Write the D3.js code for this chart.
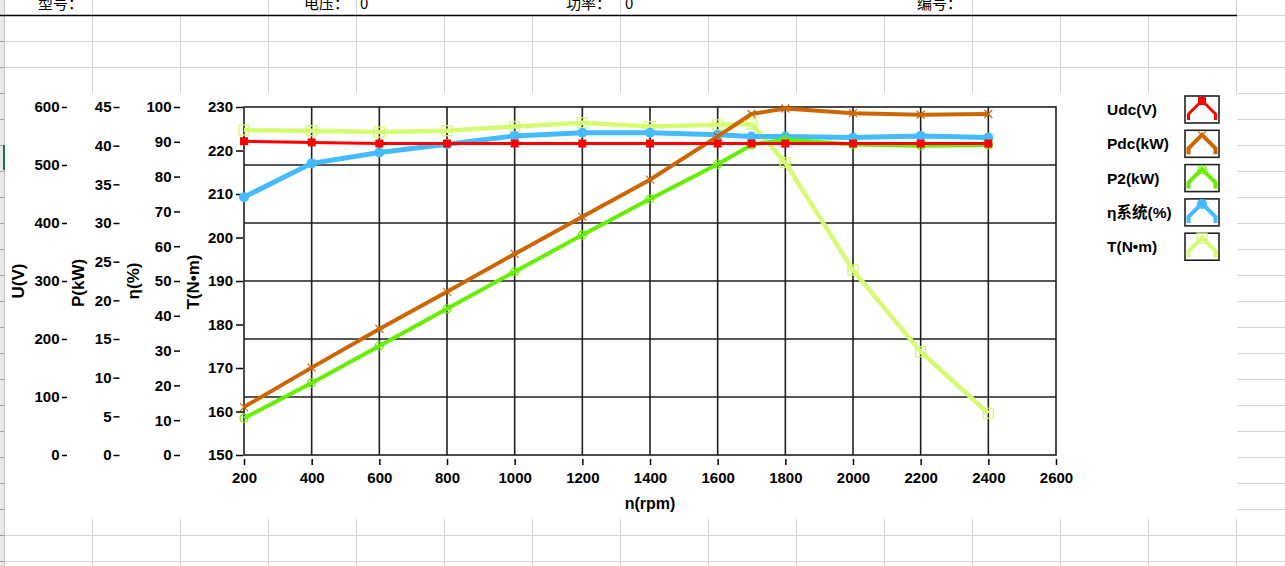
<!DOCTYPE html>
<html><head><meta charset="utf-8">
<script src="https://cdn.jsdelivr.net/npm/d3@7"></script>
<style>
html,body{margin:0;padding:0;background:#fff;}
svg{display:block;}
</style></head>
<body>
<svg id="c" width="1285" height="566"></svg>
<script>
// ---------------- data ----------------
const rpm    = [200, 400, 600, 800, 1000, 1200, 1400, 1600, 1700, 1800, 2000, 2200, 2400];
const udc    = [541, 539, 537, 537, 537, 537, 537, 537, 537, 537, 537, 537, 537];
const pdc    = [6.2, 11.3, 16.3, 21.1, 26.0, 30.8, 35.6, 41.2, 44.1, 44.8, 44.2, 44.0, 44.1];
const p2     = [4.75, 9.3, 14.1, 18.9, 23.7, 28.45, 33.1, 37.6, 40.1, 40.8, 40.15, 40.0, 40.1];
const eta    = [74.1, 83.8, 86.9, 89.3, 91.7, 92.6, 92.6, 92.0, 91.5, 91.5, 91.2, 91.7, 91.2];
const torque = [224.7, 224.55, 224.25, 224.55, 225.5, 226.4, 225.5, 225.9, 226.1, 217.2, 192.5, 173.75, 159.6];

const xTicks   = [200, 400, 600, 800, 1000, 1200, 1400, 1600, 1800, 2000, 2200, 2400, 2600];
const uTicks   = [0, 100, 200, 300, 400, 500, 600];
const pTicks   = [0, 5, 10, 15, 20, 25, 30, 35, 40, 45];
const etaTicks = [0, 10, 20, 30, 40, 50, 60, 70, 80, 90, 100];
const tTicks   = [150, 160, 170, 180, 190, 200, 210, 220, 230];

const seriesNames = ["Udc(V)", "Pdc(kW)", "P2(kW)", "η系统(%)", "T(N•m)"];
const header = [
  {t: "型号：", x: 38}, {t: "电压：", x: 304}, {t: "0", x: 360},
  {t: "功率：", x: 566}, {t: "0", x: 625}, {t: "编号：", x: 917}
];

// ---------------- layout ----------------
const svg = d3.select("#c");
const W = 1285, H = 566;
const L = 244, R = 1056, T = 107, B = 455;
const gridC = "#d4d4d4";

// spreadsheet background
const bg = svg.append("g");
for (let x = 4; x <= 1237; x += 88) {
  bg.append("line").attr("x1", x + 0.5).attr("x2", x + 0.5).attr("y1", 15).attr("y2", H)
    .attr("stroke", gridC).attr("stroke-width", 1);
}
[92, 268, 356, 620, 972, 1236].forEach(x => {
  bg.append("line").attr("x1", x + 0.5).attr("x2", x + 0.5).attr("y1", 0).attr("y2", 15)
    .attr("stroke", gridC).attr("stroke-width", 1);
});
for (let y = 41.3; y < H; y += 26) {
  bg.append("line").attr("x1", 0).attr("x2", W).attr("y1", Math.round(y) + 0.5).attr("y2", Math.round(y) + 0.5)
    .attr("stroke", gridC).attr("stroke-width", 1);
}
bg.append("line").attr("x1", 1236).attr("x2", W).attr("y1", 15.5).attr("y2", 15.5).attr("stroke", gridC);
// left row-header strip
bg.append("rect").attr("x", 0).attr("y", 0).attr("width", 4).attr("height", H).attr("fill", "#e9e9e9");
bg.append("line").attr("x1", 4.5).attr("x2", 4.5).attr("y1", 0).attr("y2", H).attr("stroke", "#c6c6c6");
for (let y = 15.3; y < H; y += 26) {
  bg.append("line").attr("x1", 0).attr("x2", 4).attr("y1", Math.round(y) + 0.5).attr("y2", Math.round(y) + 0.5)
    .attr("stroke", "#a0a0a0");
}
bg.append("rect").attr("x", 3).attr("y", 145).attr("width", 2).attr("height", 25).attr("fill", "#217346");

// header line + text
bg.append("line").attr("x1", 0).attr("x2", 1237).attr("y1", 15.5).attr("y2", 15.5)
  .attr("stroke", "#000").attr("stroke-width", 1.6);
bg.selectAll("text.h").data(header).enter().append("text")
  .attr("x", d => d.x).attr("y", 9)
  .attr("font-family", "'Noto Sans CJK SC', sans-serif").attr("font-size", 15)
  .attr("fill", "#000").text(d => d.t);

// chart white area
svg.append("rect").attr("x", 5).attr("y", 93).attr("width", 1232).attr("height", 426).attr("fill", "#fff");

// ---------------- scales ----------------
const x = d3.scaleLinear().domain([200, 2600]).range([L, R]);
const yU = d3.scaleLinear().domain([0, 600]).range([B, T]);
const yP = d3.scaleLinear().domain([0, 45]).range([B, T]);
const yE = d3.scaleLinear().domain([0, 100]).range([B, T]);
const yT = d3.scaleLinear().domain([150, 230]).range([B, T]);

const FONT = "'Liberation Sans', Arial, sans-serif";

// grid
const grid = svg.append("g").attr("stroke", "#1e1e1e").attr("stroke-width", 1.6);
grid.selectAll("line.v").data(xTicks.slice(1, -1)).enter().append("line")
  .attr("x1", d => x(d)).attr("x2", d => x(d)).attr("y1", T).attr("y2", B);
grid.selectAll("line.h").data(uTicks.slice(1, -1)).enter().append("line")
  .attr("x1", L).attr("x2", R).attr("y1", d => yU(d)).attr("y2", d => yU(d));
svg.append("rect").attr("x", L).attr("y", T).attr("width", R - L).attr("height", B - T)
  .attr("fill", "none").attr("stroke", "#1e1e1e").attr("stroke-width", 1.6);

// axes
function styleAxis(g) {
  g.select(".domain").remove();
  g.selectAll(".tick line").attr("stroke", "#000").attr("stroke-width", 1.5);
  g.selectAll(".tick text").attr("font-family", FONT).attr("font-weight", "bold")
    .attr("font-size", 15).attr("fill", "#000");
}
svg.append("g").attr("transform", "translate(67,0)")
  .call(d3.axisLeft(yU).tickValues(uTicks).tickSize(5).tickPadding(2.5)).call(styleAxis);
svg.append("g").attr("transform", "translate(119.5,0)")
  .call(d3.axisLeft(yP).tickValues(pTicks).tickSize(6).tickPadding(2)).call(styleAxis);
svg.append("g").attr("transform", "translate(180,0)")
  .call(d3.axisLeft(yE).tickValues(etaTicks).tickSize(6).tickPadding(2.5)).call(styleAxis);
svg.append("g").attr("transform", "translate(243,0)")
  .call(d3.axisLeft(yT).tickValues(tTicks).tickSize(7).tickPadding(3)).call(styleAxis);
svg.append("g").attr("transform", "translate(0,459)")
  .call(d3.axisBottom(x).tickValues(xTicks).tickFormat(d3.format("d")).tickSize(6).tickPadding(7)).call(styleAxis);

// axis titles
const titles = [
  {t: "U(V)", x: 24, y: 281},
  {t: "P(kW)", x: 84, y: 283},
  {t: "η(%)", x: 139, y: 281},
  {t: "T(N•m)", x: 199, y: 282}
];
svg.selectAll("text.at").data(titles).enter().append("text")
  .attr("transform", d => `translate(${d.x},${d.y}) rotate(-90)`)
  .attr("text-anchor", "middle")
  .attr("font-family", FONT).attr("font-weight", "bold").attr("font-size", 17).attr("fill", "#000")
  .text(d => d.t);
svg.append("text").attr("x", 650).attr("y", 509).attr("text-anchor", "middle")
  .attr("font-family", FONT).attr("font-weight", "bold").attr("font-size", 16).attr("fill", "#000")
  .text("n(rpm)");

// ---------------- series ----------------
const series = [
  {name: seriesNames[0], vals: udc,    y: yU, color: "#ff0000", w: 3,   marker: "sqf"},
  {name: seriesNames[1], vals: pdc,    y: yP, color: "#cc6600", w: 4,   marker: "x"},
  {name: seriesNames[2], vals: p2,     y: yP, color: "#66ee00", w: 4,   marker: "circ"},
  {name: seriesNames[3], vals: eta,    y: yE, color: "#44bbff", w: 5,   marker: "dot"},
  {name: seriesNames[4], vals: torque, y: yT, color: "#d4fb72", w: 4.5, marker: "sqo"}
];

function drawMarker(g, type, cx, cy, color) {
  if (type === "sqf") {
    g.append("rect").attr("x", cx - 4).attr("y", cy - 4).attr("width", 8).attr("height", 8).attr("fill", color);
  } else if (type === "x") {
    g.append("path").attr("d", `M${cx-4},${cy-4}L${cx+4},${cy+4}M${cx-4},${cy+4}L${cx+4},${cy-4}`)
      .attr("stroke", color).attr("stroke-width", 1.2).attr("fill", "none");
  } else if (type === "circ") {
    g.append("circle").attr("cx", cx).attr("cy", cy).attr("r", 4)
      .attr("fill", "none").attr("stroke", color).attr("stroke-width", 1.3);
  } else if (type === "dot") {
    g.append("circle").attr("cx", cx).attr("cy", cy).attr("r", 5).attr("fill", color);
  } else if (type === "sqo") {
    g.append("rect").attr("x", cx - 5).attr("y", cy - 5).attr("width", 10).attr("height", 10)
      .attr("fill", "none").attr("stroke", color).attr("stroke-width", 1.3);
  }
}

const plotG = svg.append("g");
series.slice().reverse().forEach(s => {
  const g = plotG.append("g");
  const line = d3.line().x((d, i) => x(rpm[i])).y(d => s.y(d));
  g.append("path").datum(s.vals).attr("d", line).attr("fill", "none")
    .attr("stroke", s.color).attr("stroke-width", s.w).attr("stroke-linejoin", "miter");
  s.vals.forEach((v, i) => drawMarker(g, s.marker, x(rpm[i]), s.y(v), s.color));
});

// ---------------- legend ----------------
const lg = svg.append("g");
series.forEach((s, i) => {
  const by = 96 + i * 34.3;
  lg.append("text").attr("x", 1107).attr("y", by + 13.5).attr("dy", "0.35em")
    .attr("font-family", FONT + ", 'Noto Sans CJK SC'").attr("font-weight", "bold").attr("font-size", 15.5)
    .attr("fill", "#000").text(s.name);
  lg.append("rect").attr("x", 1185).attr("y", by).attr("width", 34).attr("height", 27)
    .attr("fill", "#fff").attr("stroke", "#222").attr("stroke-width", 1.6);
  const bx = 1185;
  const pts = [[bx + 3.5, by + 24], [bx + 3.5, by + 18], [bx + 17, by + 4.5], [bx + 30.5, by + 18], [bx + 30.5, by + 24]];
  lg.append("path").attr("d", d3.line()(pts)).attr("fill", "none")
    .attr("stroke", s.color).attr("stroke-width", Math.min(s.w, 4)).attr("stroke-linejoin", "miter");
  drawMarker(lg, s.marker, bx + 17, by + 5, s.color);
});
</script>
</body></html>
